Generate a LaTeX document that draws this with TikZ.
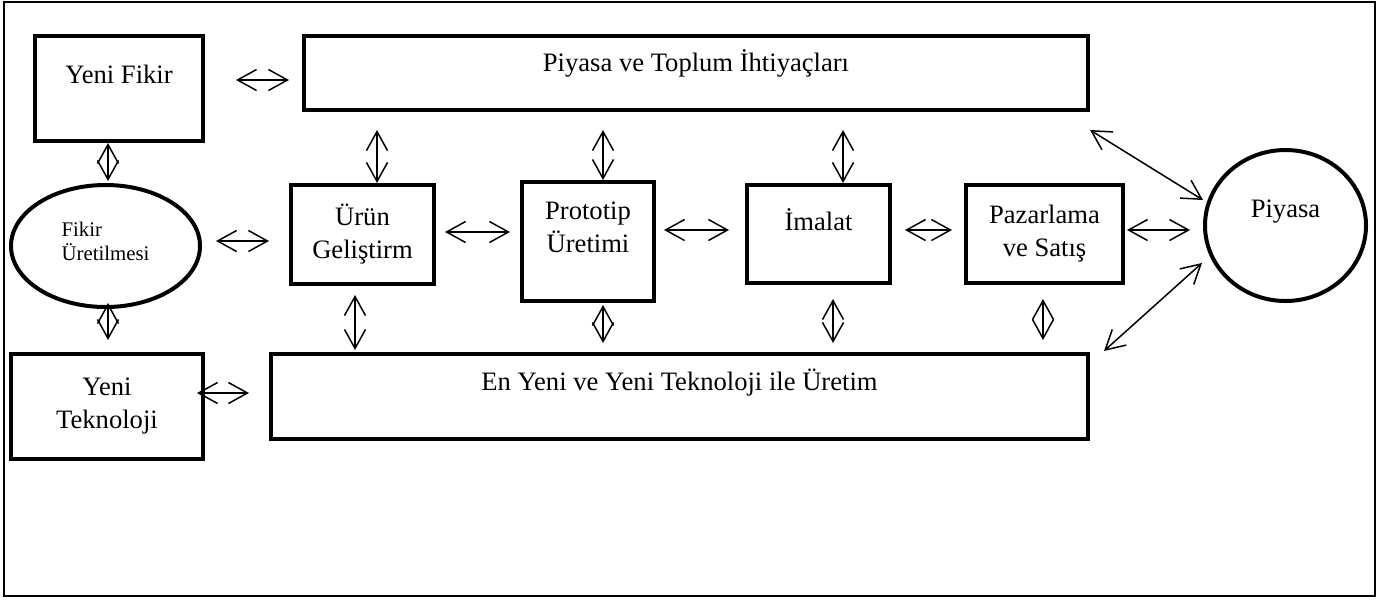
\documentclass[tikz,border=0pt]{standalone}
\usepackage{fontspec}
\setmainfont{Liberation Serif}
\usetikzlibrary{positioning, arrows.meta, shapes.geometric, calc}

\begin{document}
\begin{tikzpicture}[
    x=0.5pt, y=-0.5pt,
    box/.style={rectangle, draw, line width=2pt, inner sep=2pt, align=center},
    oval/.style={ellipse, draw, line width=2pt, inner sep=0pt, align=center},
    lift/.style={text depth=#1},
    arr/.style={{Straight Barb[length=9.5pt,width=10.5pt]}-{Straight Barb[length=9.5pt,width=10.5pt]}, line width=0.75pt},
    font=\fontsize{13.3}{16.5}\selectfont
]
\useasboundingbox (0,0) rectangle (1380,601);
\draw[line width=1pt] (4,2) rectangle (1375,596);

\node[box, minimum width=84pt, minimum height=52.5pt, lift=14pt] (yfikir) at (119,88.5) {Yeni Fikir};
\node[box, minimum width=392pt, minimum height=37pt, lift=12pt] (ihtiyac) at (696,73) {Piyasa ve Toplum İhtiyaçları};
\node[oval, minimum width=94.5pt, minimum height=61pt, align=left, lift=5pt, font=\fontsize{10.4}{12}\selectfont] (uretme) at (105.5,246) {Fikir\\Üretilmesi};
\node[box, minimum width=71.5pt, minimum height=49.5pt] (urun) at (362.5,234.5) {Ürün\\Geliştirm};
\node[box, minimum width=66pt, minimum height=59.5pt, lift=14pt] (proto) at (588,241.5) {Prototip\\Üretimi};
\node[box, minimum width=71.5pt, minimum height=49pt, lift=14pt] (imalat) at (818.5,234) {İmalat};
\node[box, minimum width=78.5pt, minimum height=49pt] (pazar) at (1044.5,234) {Pazarlama\\ve Satış};
\node[oval, minimum width=80.5pt, minimum height=75.5pt, lift=17pt] (piyasa) at (1285.5,225.5) {Piyasa};
\node[box, minimum width=96pt, minimum height=52.5pt] (teknoloji) at (107,406.5) {Yeni\\Teknoloji};
\node[box, minimum width=408.5pt, minimum height=42.5pt, lift=17pt] (enyeni) at (679.5,396.5) {En Yeni ve Yeni Teknoloji ile Üretim};

\draw[arr] ($(yfikir.east)+(31,-8.5)$) -- ($(ihtiyac.west)+(-13,7)$);
\draw[arr] ($(yfikir.south)+(-11,0)$) -- ($(uretme.north)+(2.5,-2)$);
\draw[arr] ($(uretme.south)+(2.5,-6)$) -- ($(teknoloji.north)+(1,-12)$);
\draw[arr] ($(uretme.east)+(14,-5)$) -- ($(urun.west)+(-20,6.5)$);
\draw[arr] ($(ihtiyac.south -| urun.north)+(14.5,18)$) -- ($(urun.north)+(14.5,0)$);
\draw[arr] ($(ihtiyac.south -| proto.north)+(15,18)$) -- ($(proto.north)+(15,0)$);
\draw[arr] ($(ihtiyac.south -| imalat.north)+(24.5,18)$) -- ($(imalat.north)+(24.5,0)$);
\draw[arr] ($(urun.east)+(9,-2.5)$) -- ($(proto.west)+(-10,-9.5)$);
\draw[arr] ($(proto.east)+(8,-11.5)$) -- ($(imalat.west)+(-16,-4)$);
\draw[arr] ($(imalat.east)+(13,-4)$) -- ($(pazar.west)+(-12,-4)$);
\draw[arr] ($(pazar.east)+(2,-4)$) -- ($(piyasa.west)+(-13,4.5)$);
\draw[arr] ($(ihtiyac.south east)+(0,18)$) -- ($(piyasa.west)+(0,-25.5)$);
\draw[arr] ($(enyeni.north east)+(14,-1)$) -- ($(piyasa.west)+(-1,37.5)$);
\draw[arr] ($(urun.south)+(-7.5,9)$) -- ($(enyeni.north -| urun.south)+(-7.5,-2)$);
\draw[arr] ($(proto.south)+(15,2)$) -- ($(enyeni.north -| proto.south)+(15,-9)$);
\draw[arr] ($(imalat.south)+(14.5,14)$) -- ($(enyeni.north -| imalat.south)+(14.5,-9)$);
\draw[arr] ($(pazar.south)+(-1.5,14)$) -- ($(enyeni.north -| pazar.south)+(-1.5,-12)$);
\draw[arr] ($(teknoloji.east)+(-8,-13.5)$) -- ($(enyeni.west)+(-20,-3.5)$);
\end{tikzpicture}
\end{document}
